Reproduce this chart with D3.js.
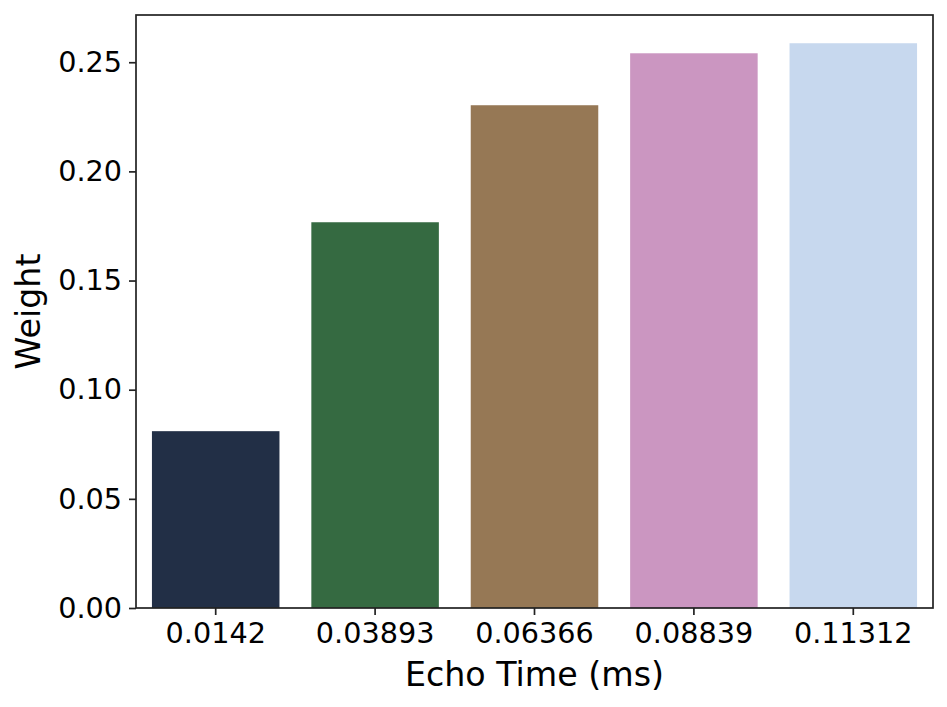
<!DOCTYPE html>
<html>
<head>
<meta charset="utf-8">
<script src="https://cdn.jsdelivr.net/npm/d3@7"></script>
<style>
  body { margin: 0; background: #fff; }
  text { font-family: "DejaVu Sans", sans-serif; fill: #000; }
</style>
</head>
<body>
<script>
var echoTimes = ["0.0142", "0.03893", "0.06366", "0.08839", "0.11312"];
var weights = [0.0810, 0.1767, 0.2303, 0.2541, 0.2587];
var barColors = ["#222f46", "#356a41", "#967855", "#cb96c1", "#c7d8ee"];
var yTicks = [0.00, 0.05, 0.10, 0.15, 0.20, 0.25];

var width = 947, height = 707;
var margin = {left: 136, right: 14, top: 15, bottom: 99};
var tickFont = 28.7, labelFont = 33.3;

var svg = d3.select("body")
            .append("svg")
            .attr("width", width)
            .attr("height", height);

var x = d3.scaleBand()
          .domain(echoTimes)
          .range([margin.left, width - margin.right])
          .paddingInner(0.2)
          .paddingOuter(0.1);

var y = d3.scaleLinear()
          .domain([0, d3.max(weights) * 1.05])
          .range([height - margin.bottom, margin.top]);

// Bars
svg.selectAll(".bar")
   .data(weights)
   .enter()
   .append("rect")
   .attr("class", "bar")
   .attr("x", (d, i) => x(echoTimes[i]))
   .attr("y", d => y(d))
   .attr("width", x.bandwidth())
   .attr("height", d => y(0) - y(d))
   .attr("fill", (d, i) => barColors[i]);

// Axes
var xAxis = svg.append("g")
               .attr("transform", "translate(0," + y(0) + ")")
               .call(d3.axisBottom(x).tickSize(7).tickPadding(7).tickSizeOuter(0));

var yAxis = svg.append("g")
               .attr("transform", "translate(" + margin.left + ",0)")
               .call(d3.axisLeft(y).tickValues(yTicks).tickFormat(d3.format(".2f"))
                       .tickSize(7).tickPadding(7).tickSizeOuter(0));

[xAxis, yAxis].forEach(function (g) {
  g.select(".domain").remove();
  g.selectAll("line").attr("stroke", "#222").attr("stroke-width", 1.7);
  g.selectAll("text")
   .attr("font-size", tickFont)
   .attr("font-family", "DejaVu Sans")
   .attr("fill", "#000");
});
xAxis.selectAll("text").attr("dy", "0.72em");

// Frame
svg.append("rect")
   .attr("x", margin.left)
   .attr("y", margin.top)
   .attr("width", width - margin.right - margin.left)
   .attr("height", height - margin.bottom - margin.top)
   .attr("fill", "none")
   .attr("stroke", "#222")
   .attr("stroke-width", 1.7);

// Axis labels
svg.append("text")
   .attr("x", (margin.left + width - margin.right) / 2)
   .attr("y", 686)
   .attr("text-anchor", "middle")
   .attr("font-size", labelFont)
   .text("Echo Time (ms)");

svg.append("text")
   .attr("transform", "translate(40," + (margin.top + height - margin.bottom) / 2 + ")rotate(-90)")
   .attr("text-anchor", "middle")
   .attr("font-size", labelFont)
   .text("Weight");
</script>
</body>
</html>
